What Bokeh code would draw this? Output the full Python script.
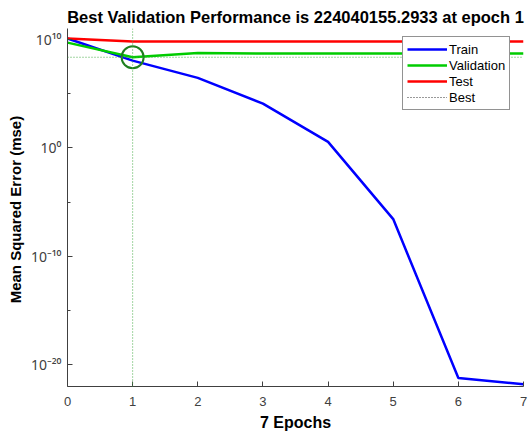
from bokeh.plotting import figure
from bokeh.models import (FixedTicker, CustomJSTickFormatter, Span, Legend,
                          LegendItem, Range1d)
from bokeh.embed import file_html
from bokeh.resources import INLINE

# ---- data ----
epochs = [0, 1, 2, 3, 4, 5, 6, 7]
train = [1.2e10, 1.1e8, 2.8e6, 1.2e4, 3.5, 2.7e-7, 6.0e-22, 1.6e-22]
validation = [5.0e9, 224040155.2933, 5.6e8, 4.9e8, 4.9e8, 4.9e8, 4.9e8, 4.9e8]
test = [1.2e10, 6.2e9, 6.2e9, 6.2e9, 6.2e9, 6.2e9, 6.2e9, 6.2e9]
best_epoch = 1
best_perf = 224040155.2933
title_text = "Best Validation Performance is 224040155.2933 at epoch 1"
x_label = "7 Epochs"
y_label = "Mean Squared Error  (mse)"
x_ticks = [0, 1, 2, 3, 4, 5, 6, 7]
y_major = [1e-20, 1e-10, 1e0, 1e10]
y_minor = [1e-15, 1e-5, 1e5]

FONT = "Liberation Sans"

p = figure(width=528, height=438, output_backend="svg", toolbar_location=None,
           y_axis_type="log", x_range=Range1d(0, 7), y_range=Range1d(1e-22, 1e11),
           min_border_left=67, min_border_right=5, min_border_top=28,
           min_border_bottom=52)
p.outline_line_color = None
p.grid.visible = False
p.background_fill_color = "white"
p.border_fill_color = "white"

p.title.text = title_text
p.title.text_font = FONT
p.title.text_font_size = "16.5px"
p.title.text_font_style = "bold"
p.title.align = "center"
p.title.text_color = "black"
p.title.standoff = 6

# axes
for ax in (p.xaxis[0], p.yaxis[0]):
    ax.axis_line_color = "#404040"
    ax.major_tick_line_color = "#404040"
    ax.minor_tick_line_color = "#404040"
    ax.major_tick_in = 5
    ax.major_tick_out = 0
    ax.minor_tick_in = 3
    ax.minor_tick_out = 0
    ax.major_label_text_font = FONT
    ax.major_label_text_font_size = "13px"
    ax.major_label_text_color = "#404040"
    ax.axis_label_text_font = FONT
    ax.axis_label_text_font_style = "bold"
    ax.axis_label_text_color = "black"

p.xaxis.ticker = FixedTicker(ticks=x_ticks)
p.xaxis.axis_label = x_label
p.xaxis.axis_label_text_font_size = "16px"
p.xaxis.major_label_standoff = 10
p.xaxis.axis_label_standoff = 5

p.yaxis.ticker = FixedTicker(ticks=y_major, minor_ticks=y_minor)
p.yaxis.formatter = CustomJSTickFormatter(code="""
const e = Math.round(Math.log10(tick));
const m = {"-":"\u207b","0":"\u2070","1":"\u00b9","2":"\u00b2","3":"\u00b3","4":"\u2074",
           "5":"\u2075","6":"\u2076","7":"\u2077","8":"\u2078","9":"\u2079"};
return "10" + String(e).split("").map(c => m[c]).join("");
""")
p.yaxis.major_label_text_font = "Noto Sans"
p.yaxis.major_label_text_font_size = "14px"
p.yaxis.axis_label = y_label
p.yaxis.axis_label_text_font_size = "15px"
p.yaxis.major_label_standoff = 6
p.yaxis.axis_label_standoff = 4

# best markers
p.add_layout(Span(location=best_epoch, dimension="height", line_color="#44aa44",
                  line_dash="1 2", line_width=1))
p.add_layout(Span(location=best_perf, dimension="width", line_color="#44aa44",
                  line_dash="1 2", line_width=1))

r_train = p.line(epochs, train, line_color="#0000ff", line_width=2.5)
r_val = p.line(epochs, validation, line_color="#00cc00", line_width=2.5)
r_test = p.line(epochs, test, line_color="#ff0000", line_width=2.5)
p.scatter([best_epoch], [best_perf], size=22, fill_color=None,
          line_color="#1f7f1f", line_width=2)
# single-point line: draws nothing in the plot, only supplies the legend glyph
r_best = p.line(x=[best_epoch], y=[best_perf], line_color="#333333",
                line_dash="1 2", line_width=1)

legend = Legend(items=[LegendItem(label="Train", renderers=[r_train]),
                       LegendItem(label="Validation", renderers=[r_val]),
                       LegendItem(label="Test", renderers=[r_test]),
                       LegendItem(label="Best", renderers=[r_best])],
                location=(335, 276))
legend.border_line_color = "#262626"
legend.border_line_width = 1
legend.background_fill_color = "white"
legend.background_fill_alpha = 1
legend.label_text_font = FONT
legend.label_text_font_size = "13px"
legend.label_text_color = "black"
legend.glyph_width = 40
legend.glyph_height = 16
legend.label_standoff = 2
legend.label_height = 16
legend.spacing = 0
legend.padding = 4
legend.margin = 0
p.add_layout(legend)

open("out.html", "w").write(file_html(p, INLINE))
